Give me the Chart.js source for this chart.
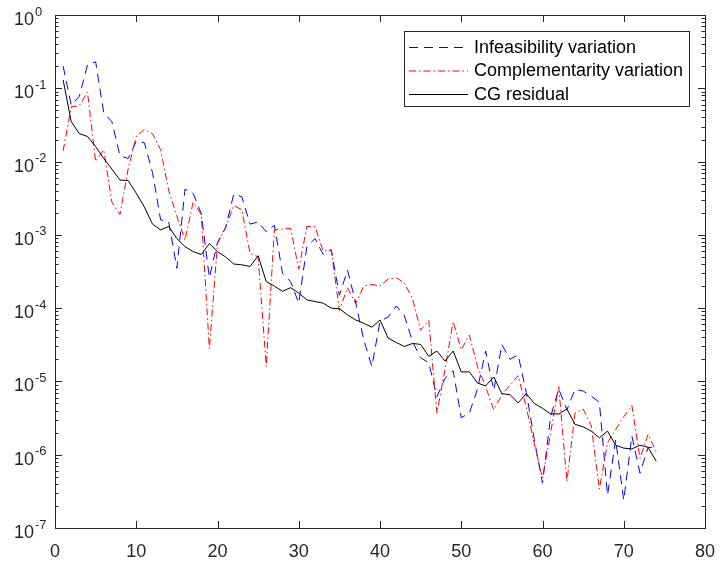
<!DOCTYPE html>
<html>
<head>
<meta charset="utf-8">
<script src="https://cdn.jsdelivr.net/npm/chart.js@4/dist/chart.umd.min.js"></script>
<style>
  html, body { margin: 0; padding: 0; background: #fff; }
  canvas { display: block; }
</style>
</head>
<body>
<canvas id="convChart" width="727" height="573"></canvas>
<script>
// iteration numbers (x axis)
const iterations = [
    1, 2, 3, 4, 5, 6, 7, 8, 9, 10, 11, 12, 13, 14, 15, 16, 17, 18, 19, 20,
    21, 22, 23, 24, 25, 26, 27, 28, 29, 30, 31, 32, 33, 34, 35, 36, 37, 38, 39, 40,
    41, 42, 43, 44, 45, 46, 47, 48, 49, 50, 51, 52, 53, 54, 55, 56, 57, 58, 59, 60,
    61, 62, 63, 64, 65, 66, 67, 68, 69, 70, 71, 72, 73, 74
];

const infeasibility = [
    2.0e-1, 5.9e-2, 7.8e-2, 2.1e-1, 2.3e-1, 4.6e-2, 3.5e-2, 1.2e-2, 1.1e-2, 1.9e-2,
    1.8e-2, 7.1e-3, 1.6e-3, 1.5e-3, 3.5e-4, 4.2e-3, 3.7e-3, 1.95e-3, 2.6e-4, 7.9e-4,
    1.26e-3, 3.6e-3, 3.3e-3, 1.4e-3, 1.5e-3, 1.1e-3, 1.35e-3, 3.0e-4, 2.3e-4, 1.17e-4,
    6.9e-4, 8.9e-4, 5.4e-4, 6.3e-4, 1.5e-4, 3.3e-4, 1.2e-4, 3.7e-5, 1.6e-5, 6.6e-5,
    7.6e-5, 1.07e-4, 7.9e-5, 3.5e-5, 2.1e-5, 1.8e-5, 6.2e-6, 1.1e-5, 1.4e-5, 3.2e-6,
    3.7e-6, 7.9e-6, 2.6e-5, 7.6e-6, 3.2e-5, 2.0e-5, 2.3e-5, 7.1e-6, 1.6e-6, 4.1e-7,
    3.3e-6, 7.9e-6, 4.1e-6, 7.8e-6, 7.4e-6, 6.3e-6, 5.2e-6, 2.8e-7, 1.6e-6, 2.4e-7,
    1.8e-6, 5.6e-7, 1.26e-6, 1.26e-6
];

const complementarity = [
    1.4e-2, 5.6e-2, 5.8e-2, 8.9e-2, 1.0e-2, 1.45e-2, 2.8e-3, 1.9e-3, 7.9e-3, 2.2e-2,
    2.75e-2, 2.4e-2, 1.45e-2, 4.0e-3, 1.8e-3, 8.5e-4, 2.8e-3, 1.9e-3, 2.8e-5, 7.6e-4,
    1.26e-3, 2.5e-3, 2.2e-3, 5.6e-4, 5.0e-4, 1.6e-5, 1.17e-3, 1.2e-3, 1.23e-3, 3.4e-4,
    1.3e-3, 1.3e-3, 6.0e-4, 6.2e-4, 9.3e-5, 1.9e-4, 1.15e-4, 2.0e-4, 2.1e-4, 2.0e-4,
    2.5e-4, 2.6e-4, 2.2e-4, 1.35e-4, 5.0e-5, 6.8e-5, 3.7e-6, 1.45e-5, 6.6e-5, 2.7e-5,
    4.3e-5, 1.6e-5, 8.5e-6, 4.1e-6, 6.6e-6, 8.9e-6, 1.2e-5, 4.5e-6, 1.4e-6, 4.8e-7,
    2.0e-6, 8.5e-6, 4.3e-7, 3.7e-6, 4.2e-6, 2.5e-6, 3.4e-7, 1.45e-6, 2.2e-6, 3.3e-6,
    4.7e-6, 8.9e-7, 1.9e-6, 1.1e-6
];

const cgResidual = [
    1.3e-1, 3.5e-2, 2.4e-2, 2.2e-2, 1.6e-2, 1.1e-2, 7.9e-3, 5.6e-3, 5.5e-3, 3.7e-3,
    2.4e-3, 1.4e-3, 1.17e-3, 1.3e-3, 8.9e-4, 6.9e-4, 5.9e-4, 5.4e-4, 7.6e-4, 5.9e-4,
    5.0e-4, 4.0e-4, 3.9e-4, 3.7e-4, 5.2e-4, 2.3e-4, 2.0e-4, 1.7e-4, 1.9e-4, 1.6e-4,
    1.3e-4, 1.23e-4, 1.17e-4, 1.0e-4, 9.8e-5, 8.1e-5, 6.9e-5, 6.2e-5, 5.5e-5, 6.9e-5,
    3.9e-5, 3.4e-5, 3.0e-5, 3.3e-5, 3.2e-5, 2.2e-5, 2.6e-5, 1.9e-5, 2.6e-5, 1.35e-5,
    1.35e-5, 9.5e-6, 8.7e-6, 1.15e-5, 6.8e-6, 6.6e-6, 5.1e-6, 6.8e-6, 5.0e-6, 4.3e-6,
    3.6e-6, 3.6e-6, 4.2e-6, 2.6e-6, 2.4e-6, 2.1e-6, 1.7e-6, 2.1e-6, 1.35e-6, 1.23e-6,
    1.2e-6, 1.35e-6, 1.26e-6, 8.1e-7
];

const seriesLabels = ['Infeasibility variation', 'Complementarity variation', 'CG residual'];
const xTicks = [0, 10, 20, 30, 40, 50, 60, 70, 80];
const yExponents = [0, -1, -2, -3, -4, -5, -6, -7];

const axisColor = '#262626';
const fontFamily = '"Liberation Sans", Arial, Helvetica, sans-serif';

function toPoints(values) {
    return iterations.map((it, i) => ({ x: it, y: values[i] }));
}

// MATLAB-like box, inward ticks, superscript labels and legend
const matlabAxes = {
    id: 'matlabAxes',
    afterDraw(chart) {
        const ctx = chart.ctx;
        const area = chart.chartArea;
        const xs = chart.scales.x;
        const ys = chart.scales.y;
        ctx.save();

        // box
        ctx.strokeStyle = axisColor;
        ctx.lineWidth = 1;
        ctx.setLineDash([]);
        ctx.strokeRect(Math.round(area.left) + 0.5, Math.round(area.top) + 0.5,
            Math.round(area.right - area.left), Math.round(area.bottom - area.top));

        // x ticks (bottom and top, pointing inward)
        ctx.beginPath();
        xTicks.forEach(v => {
            const px = Math.round(xs.getPixelForValue(v)) + 0.5;
            ctx.moveTo(px, area.bottom);
            ctx.lineTo(px, area.bottom - 7);
            ctx.moveTo(px, area.top);
            ctx.lineTo(px, area.top + 7);
        });
        // y ticks, major and minor
        yExponents.forEach(e => {
            for (let m = 1; m <= 9; m++) {
                const v = m * Math.pow(10, e);
                if (v > 1.0000001 || v < 0.99999e-7) continue;
                const py = Math.round(ys.getPixelForValue(v)) + 0.5;
                const len = m === 1 ? 7 : 3.5;
                ctx.moveTo(area.left, py);
                ctx.lineTo(area.left + len, py);
                ctx.moveTo(area.right, py);
                ctx.lineTo(area.right - len, py);
            }
        });
        ctx.stroke();

        // x labels
        ctx.fillStyle = axisColor;
        ctx.font = '18px ' + fontFamily;
        ctx.textAlign = 'center';
        ctx.textBaseline = 'middle';
        xTicks.forEach(v => {
            ctx.fillText(String(v), xs.getPixelForValue(v), area.bottom + 24);
        });

        // y labels: 10 with exponent
        yExponents.forEach(e => {
            const py = ys.getPixelForValue(Math.pow(10, e));
            ctx.font = '18px ' + fontFamily;
            ctx.textAlign = 'right';
            ctx.fillText('10', 34, py + 5);
            ctx.font = '13px ' + fontFamily;
            ctx.textAlign = 'left';
            ctx.fillText(String(e), 35, py - 3);
        });

        // legend
        const lx = 404, ly = 31, lw = 285, lh = 75;
        ctx.fillStyle = '#ffffff';
        ctx.fillRect(lx, ly, lw, lh);
        ctx.strokeStyle = axisColor;
        ctx.strokeRect(lx + 0.5, ly + 0.5, lw, lh);
        const rows = [47, 70.5, 94];
        chart.data.datasets.forEach((ds, i) => {
            ctx.strokeStyle = ds.borderColor;
            ctx.lineWidth = 1;
            ctx.setLineDash(ds.borderDash || []);
            ctx.beginPath();
            ctx.moveTo(409, rows[i] + 0.5);
            ctx.lineTo(468, rows[i] + 0.5);
            ctx.stroke();
            ctx.setLineDash([]);
            ctx.fillStyle = '#000000';
            ctx.font = '18px ' + fontFamily;
            ctx.textAlign = 'left';
            ctx.textBaseline = 'middle';
            ctx.fillText(ds.label, 474, rows[i] + 1);
        });

        ctx.restore();
    }
};

const ctx = document.getElementById('convChart').getContext('2d');

new Chart(ctx, {
    type: 'line',
    data: {
        datasets: [
            {
                label: seriesLabels[0],
                data: toPoints(infeasibility),
                borderColor: '#0000ff',
                borderWidth: 1,
                borderDash: [9, 6],
                order: 3
            },
            {
                label: seriesLabels[1],
                data: toPoints(complementarity),
                borderColor: '#ff0000',
                borderWidth: 1,
                borderDash: [7, 3, 1.5, 3],
                order: 2
            },
            {
                label: seriesLabels[2],
                data: toPoints(cgResidual),
                borderColor: '#000000',
                borderWidth: 1,
                order: 1
            }
        ]
    },
    options: {
        responsive: false,
        animation: false,
        devicePixelRatio: 1,
        layout: { padding: { left: 0, right: 22, top: 15, bottom: 0 } },
        elements: {
            point: { radius: 0, hoverRadius: 0 },
            line: { tension: 0, fill: false }
        },
        plugins: {
            legend: { display: false },
            tooltip: { enabled: false }
        },
        scales: {
            x: {
                type: 'linear',
                min: 0,
                max: 80,
                grid: { display: false },
                border: { display: false },
                ticks: { display: false },
                afterFit: scale => { scale.height = 45; }
            },
            y: {
                type: 'logarithmic',
                min: 1e-7,
                max: 1,
                grid: { display: false },
                border: { display: false },
                ticks: { display: false },
                afterFit: scale => { scale.width = 55; }
            }
        }
    },
    plugins: [matlabAxes]
});
</script>
</body>
</html>
